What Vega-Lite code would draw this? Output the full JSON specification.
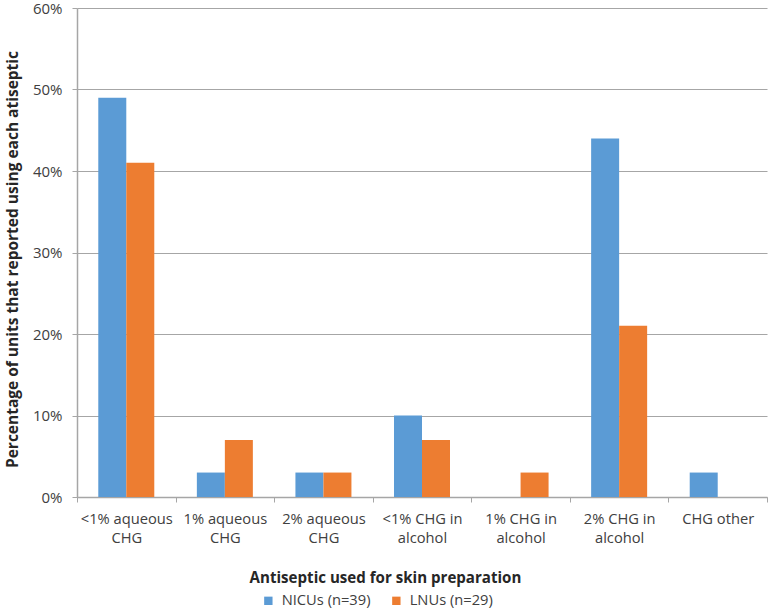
{
  "$schema": "https://vega.github.io/schema/vega-lite/v6.json",
  "width": 690,
  "height": 489,
  "autosize": {"type": "none"},
  "padding": {"left": 77, "top": 8, "right": 1, "bottom": 113},
  "background": "white",
  "config": {"font": "Open Sans", "view": {"stroke": null}},
  "data": {
    "values": [
      {"antiseptic": "<1% aqueous CHG", "unit": "NICUs (n=39)", "pct": 49},
      {"antiseptic": "<1% aqueous CHG", "unit": "LNUs (n=29)", "pct": 41},
      {"antiseptic": "1% aqueous CHG", "unit": "NICUs (n=39)", "pct": 3},
      {"antiseptic": "1% aqueous CHG", "unit": "LNUs (n=29)", "pct": 7},
      {"antiseptic": "2% aqueous CHG", "unit": "NICUs (n=39)", "pct": 3},
      {"antiseptic": "2% aqueous CHG", "unit": "LNUs (n=29)", "pct": 3},
      {"antiseptic": "<1% CHG in alcohol", "unit": "NICUs (n=39)", "pct": 10},
      {"antiseptic": "<1% CHG in alcohol", "unit": "LNUs (n=29)", "pct": 7},
      {"antiseptic": "1% CHG in alcohol", "unit": "NICUs (n=39)", "pct": 0},
      {"antiseptic": "1% CHG in alcohol", "unit": "LNUs (n=29)", "pct": 3},
      {"antiseptic": "2% CHG in alcohol", "unit": "NICUs (n=39)", "pct": 44},
      {"antiseptic": "2% CHG in alcohol", "unit": "LNUs (n=29)", "pct": 21},
      {"antiseptic": "CHG other", "unit": "NICUs (n=39)", "pct": 3},
      {"antiseptic": "CHG other", "unit": "LNUs (n=29)", "pct": 0}
    ]
  },
  "mark": {"type": "bar"},
  "encoding": {
    "x": {
      "field": "antiseptic",
      "type": "nominal",
      "sort": ["<1% aqueous CHG", "1% aqueous CHG", "2% aqueous CHG", "<1% CHG in alcohol", "1% CHG in alcohol", "2% CHG in alcohol", "CHG other"],
      "scale": {"paddingInner": 0, "paddingOuter": 0},
      "axis": {
        "title": "Antiseptic used for skin preparation",
        "titleFont": "Open Sans",
        "titleFontSize": 15.1,
        "titleFontWeight": "bold",
        "titleColor": "#262626",
        "titleX": 308,
        "titleY": 80,
        "titleAlign": "center",
        "titleBaseline": "middle",
        "labelAngle": 0,
        "labelFontSize": 14.7,
        "labelColor": "#404040",
        "labelPadding": 9,
        "labelLineHeight": 19,
        "labelExpr": "datum.label == 'CHG other' ? datum.label : [slice(datum.label, 0, lastindexof(datum.label, ' ')), slice(datum.label, lastindexof(datum.label, ' ') + 1)]",
        "tickBand": "extent",
        "tickSize": 5,
        "tickColor": "#a6a6a6",
        "domainColor": "#a6a6a6",
        "domainWidth": 1.5
      }
    },
    "xOffset": {
      "field": "unit",
      "type": "nominal",
      "sort": ["NICUs (n=39)", "LNUs (n=29)"],
      "scale": {"paddingInner": 0, "paddingOuter": 0.76}
    },
    "y": {
      "field": "pct",
      "type": "quantitative",
      "scale": {"domain": [0, 60], "nice": false},
      "axis": {
        "title": "Percentage of units that reported using each atiseptic",
        "titleFont": "Open Sans",
        "titleFontSize": 15.5,
        "titleFontWeight": "bold",
        "titleColor": "#262626",
        "titleX": -65,
        "titleY": 251,
        "titleAlign": "center",
        "titleBaseline": "middle",
        "values": [0, 10, 20, 30, 40, 50, 60],
        "labelExpr": "datum.value + '%'",
        "labelFontSize": 15,
        "labelColor": "#404040",
        "labelPadding": 10,
        "tickSize": 5,
        "tickColor": "#a6a6a6",
        "domainColor": "#a6a6a6",
        "domainWidth": 1.5,
        "grid": true,
        "gridColor": "#a6a6a6",
        "gridWidth": 1.2
      }
    },
    "color": {
      "field": "unit",
      "type": "nominal",
      "sort": ["NICUs (n=39)", "LNUs (n=29)"],
      "scale": {"domain": ["NICUs (n=39)", "LNUs (n=29)"], "range": ["#5b9bd5", "#ed7d31"]},
      "legend": {
        "title": null,
        "orient": "none",
        "direction": "horizontal",
        "legendX": 184,
        "legendY": 585,
        "symbolType": "square",
        "symbolSize": 70,
        "symbolStrokeWidth": 0,
        "labelFontSize": 14.7,
        "labelColor": "#404040",
        "labelOffset": 6,
        "columnPadding": 18
      }
    }
  }
}
